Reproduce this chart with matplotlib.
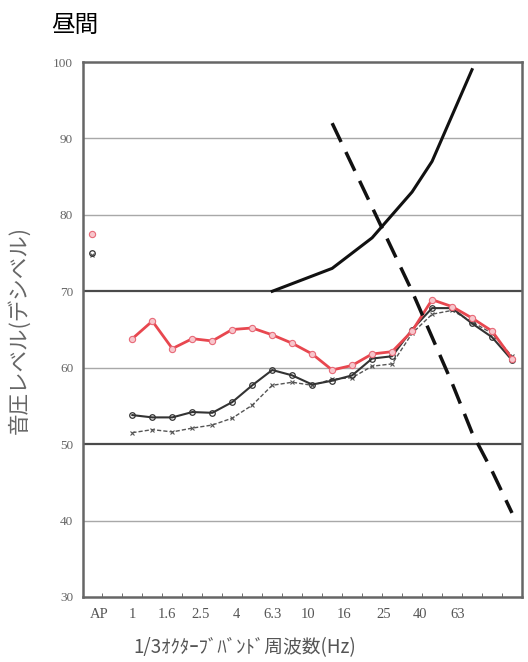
import numpy as np
import matplotlib
matplotlib.use("Agg")
import matplotlib.pyplot as plt

plt.rcParams['font.family'] = ['Noto Sans CJK JP', 'DejaVu Sans']

# カテゴリ: 0=AP, 1=空き, 2..21 = 1/3オクターブバンド (1〜80 Hz)
n_cat = 22
nan = np.nan

red_vals = [77.5, nan,
            63.8, 66.1, 62.5, 63.8, 63.5, 65.0, 65.2, 64.3, 63.2, 61.8,
            59.7, 60.3, 61.8, 62.1, 64.8, 68.9, 68.0, 66.5, 64.8, 61.2]
black_vals = [75.0, nan,
              53.8, 53.5, 53.5, 54.2, 54.1, 55.5, 57.7, 59.7, 59.0, 57.8,
              58.3, 59.0, 61.2, 61.5, 65.0, 67.8, 67.8, 65.8, 64.0, 61.0]
black2_vals = [74.7, nan,
               51.5, 51.9, 51.6, 52.1, 52.5, 53.4, 55.1, 57.7, 58.1, 57.7,
               58.5, 58.7, 60.2, 60.5, 64.5, 67.0, 67.5, 66.0, 64.5, 61.5]

# 実線の曲線と破線
curve_k = [9, 10, 11, 12, 13, 14, 15, 16, 17, 18, 19]
curve_vals = [70, 71, 72, 73, 75, 77, 80, 83, 87, 93, 99]
dash_k = [12, 13, 14, 15, 16, 17, 18, 19, 20, 21]
dash_vals = [92, 86.5, 81, 75.5, 70, 64, 58, 51.5, 46.5, 41]

x_labels = ['AP', '1', '1.6', '2.5', '4', '6.3', '10', '16', '25', '40', '63']
x_label_pos = [0.35, 2.0, 3.75, 5.4, 7.2, 9.0, 10.8, 12.6, 14.6, 16.4, 18.3]

y_ticks = [30, 40, 50, 60, 70, 80, 90, 100]

fig = plt.figure(figsize=(5.28, 6.62), dpi=100)
ax = fig.add_axes([0.157, 0.0982, 0.8316, 0.8081])

k = np.arange(n_cat)

# グリッド線
for v in [40, 60, 80, 90]:
    ax.axhline(v, color='#a8a8a8', lw=1.0, zorder=1)
for v in [50, 70]:
    ax.axhline(v, color='#4a4a4a', lw=1.6, zorder=1)

ax.plot(k, black2_vals, color='#555555', lw=1.0, ls=(0, (3, 1.5)),
        marker='x', ms=3.5, mew=0.8, zorder=3)
ax.plot(k, black_vals, color='#333333', lw=1.5, marker='o', ms=4,
        mfc='none', mew=0.9, zorder=4)
ax.plot(k, red_vals, color='#e8474f', lw=2.0, marker='o', ms=4.5,
        mfc='#f7c6cc', mec='#e86a78', mew=0.8, zorder=5)

ax.plot(curve_k, curve_vals, color='#111111', lw=2.2, zorder=6)
ax.plot(dash_k, dash_vals, color='#111111', lw=2.5, dashes=(6, 3.2), zorder=6)

ax.set_xlim(-0.475, 21.26)
ax.set_ylim(30, 100)

ax.set_yticks(y_ticks)
ax.set_yticklabels([str(v) for v in y_ticks], family='Liberation Serif',
                   fontsize=9.5, color='#666666')
ax.tick_params(axis='y', length=0, pad=7)

ax.set_xticks(x_label_pos)
ax.set_xticklabels(x_labels, family='Liberation Serif', fontsize=10.5,
                   color='#555555')
ax.tick_params(axis='x', which='major', length=0, pad=8)
ax.set_xticks(k + 0.5, minor=True)
ax.tick_params(axis='x', which='minor', direction='in', length=3,
               color='#555555')

for s in ax.spines.values():
    s.set_color('#666666')
    s.set_linewidth(1.8)

ax.set_ylabel('音圧レベル(デシベル)', fontsize=15.5, color='#666666')
ax.yaxis.set_label_coords(-0.118, 0.5)
ax.set_xlabel('1/3ｵｸﾀｰﾌﾞﾊﾞﾝﾄﾞ周波数(Hz)', fontsize=13.5, color='#555555')
ax.xaxis.set_label_coords(0.369, -0.075)

fig.text(0.097, 0.962, '昼間', fontsize=17, color='black', va='center',
         ha='left')

fig.savefig('out.png', dpi=100)
